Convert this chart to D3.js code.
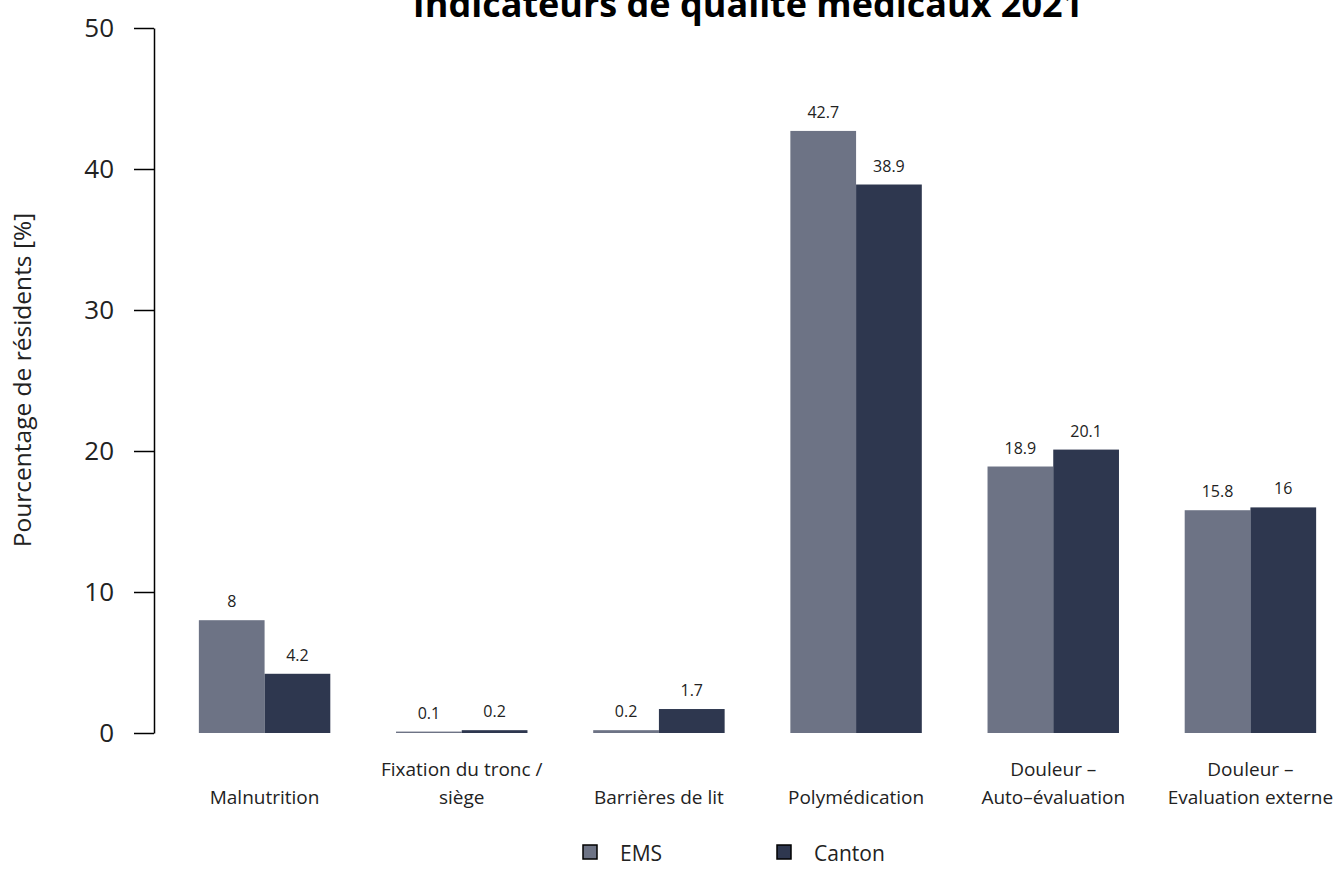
<!DOCTYPE html>
<html>
<head>
<meta charset="utf-8">
<script src="https://cdn.jsdelivr.net/npm/d3@7"></script>
<style>
  html, body { margin: 0; padding: 0; background: #fff; }
  svg { display: block; font-family: "Open Sans", "Noto Sans", sans-serif; }
</style>
</head>
<body>
<svg id="chart" width="1336" height="892"></svg>
<script>
// Indicator categories (multi-line labels split on "\n")
const categories = [
  "Malnutrition",
  "Fixation du tronc /\nsiège",
  "Barrières de lit",
  "Polymédication",
  "Douleur –\nAuto–évaluation",
  "Douleur –\nEvaluation externe"
];
const seriesNames = ["EMS", "Canton"];
const emsValues = [8, 0.1, 0.2, 42.7, 18.9, 15.8];
const cantonValues = [4.2, 0.2, 1.7, 38.9, 20.1, 16];
const yTicks = [0, 10, 20, 30, 40, 50];
const colors = ["#6d7385", "#2e374f"];

const svg = d3.select("#chart");

const y = d3.scaleLinear().domain([0, 50]).range([733, 28]);
const x0 = d3.scaleBand()
  .domain(d3.range(categories.length))
  .range([166, 1349])
  .paddingInner(1 / 3)
  .paddingOuter(1 / 6);
const x1 = d3.scaleBand().domain(d3.range(seriesNames.length)).range([0, x0.bandwidth()]);

const series = [emsValues, cantonValues];

// Title
svg.append("text")
  .attr("x", 748).attr("y", 17)
  .attr("text-anchor", "middle")
  .attr("font-size", 36).attr("font-weight", "bold")
  .attr("fill", "#000")
  .text("Indicateurs de qualité médicaux 2021");

// Y axis
const yAxis = d3.axisLeft(y).tickValues(yTicks).tickSize(20).tickPadding(20).tickSizeOuter(0);
const gy = svg.append("g").attr("transform", "translate(154,0)").call(yAxis);
gy.select(".domain").attr("stroke", "#000").attr("stroke-width", 1.5);
gy.selectAll(".tick line").attr("stroke", "#000").attr("stroke-width", 1.5);
gy.selectAll(".tick text").attr("font-size", 26).attr("fill", "#222")
  .attr("font-family", "'Open Sans', 'Noto Sans', sans-serif");

// Y axis title
svg.append("text")
  .attr("transform", "translate(31,380) rotate(-90)")
  .attr("text-anchor", "middle")
  .attr("font-size", 24.5).attr("fill", "#222")
  .text("Pourcentage de résidents [%]");

// Bars
const groups = svg.append("g").selectAll("g")
  .data(categories.map((c, i) => i))
  .join("g")
  .attr("transform", i => `translate(${x0(i)},0)`);

groups.selectAll("rect")
  .data(i => series.map((s, k) => ({ k, v: s[i] })))
  .join("rect")
  .attr("x", d => x1(d.k))
  .attr("y", d => y(d.v))
  .attr("width", x1.bandwidth())
  .attr("height", d => y(0) - y(d.v))
  .attr("fill", d => colors[d.k]);

// Value labels
groups.selectAll("text.val")
  .data(i => series.map((s, k) => ({ k, v: s[i] })))
  .join("text")
  .attr("class", "val")
  .attr("x", d => x1(d.k) + x1.bandwidth() / 2)
  .attr("y", d => y(d.v) - 13)
  .attr("text-anchor", "middle")
  .attr("font-size", 16).attr("fill", "#222")
  .text(d => d.v);

// Category labels
groups.each(function (i) {
  const lines = categories[i].split("\n");
  const g = d3.select(this);
  const cx = x0.bandwidth() / 2;
  const lastY = 804;
  lines.forEach((ln, j) => {
    g.append("text")
      .attr("x", cx)
      .attr("y", lastY - (lines.length - 1 - j) * 28)
      .attr("text-anchor", "middle")
      .attr("font-size", 19).attr("fill", "#222")
      .text(ln);
  });
});

// Legend
const legendX = [583, 777];
const leg = svg.append("g").selectAll("g")
  .data(seriesNames)
  .join("g")
  .attr("transform", (d, k) => `translate(${legendX[k]},845)`);
leg.append("rect")
  .attr("width", 14).attr("height", 14)
  .attr("fill", (d, k) => colors[k])
  .attr("stroke", "#000").attr("stroke-width", 1.5);
leg.append("text")
  .attr("x", 37).attr("y", 16)
  .attr("font-size", 21).attr("fill", "#222")
  .text(d => d);
</script>
</body>
</html>
